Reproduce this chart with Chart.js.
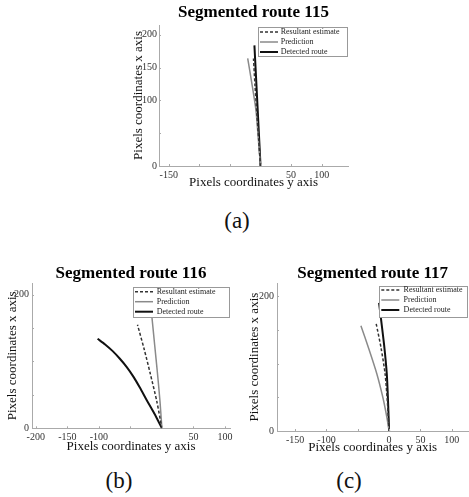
<!DOCTYPE html>
<html>
<head>
<meta charset="utf-8">
<script src="https://cdn.jsdelivr.net/npm/chart.js@4.4.1/dist/chart.umd.min.js"></script>
<style>
  body { margin: 0; background: #fff; }
  .panel { position: absolute; }
  .caption { position: absolute; font: 23px "Liberation Serif", serif; line-height: 23px; color: #111; text-align: center; width: 60px; }
</style>
</head>
<body>
<div class="panel" style="left:120px; top:0px;"><canvas id="route115" width="240" height="196"></canvas></div>
<div class="panel" style="left:0px; top:258px;"><canvas id="route116" width="236" height="200"></canvas></div>
<div class="panel" style="left:240px; top:258px;"><canvas id="route117" width="229" height="202"></canvas></div>
<div class="caption" style="left:207px; top:209px;">(a)</div>
<div class="caption" style="left:89px; top:469px;">(b)</div>
<div class="caption" style="left:319px; top:469px;">(c)</div>
<script>
// Horizontal axis = "pixels coordinates y axis", vertical axis = "pixels coordinates x axis"
const legendLabels = ['Resultant estimate', 'Prediction', 'Detected route'];
const yTickValues = [0, 50, 100, 150, 200];

// Segmented route 115
const r115XTicks = [-150, -100, -50, 0, 50, 100];
const r115XTickLabels = ['-150', '', '', '', '50', '100'];
const r115YTickLabels = ['0', '', '100', '150', '200'];
const r115ResultantY = [0, -3, -6, -9, -11.5];
const r115ResultantX = [0, 40, 80, 122, 164];
const r115PredictionY = [0, -3.5, -7.5, -14, -21];
const r115PredictionX = [0, 40, 85, 125, 164];
const r115DetectedY = [0, -5, -10];
const r115DetectedX = [0, 92, 184];

// Segmented route 116
const r116XTicks = [-200, -150, -100, -50, 0, 50, 100];
const r116XTickLabels = ['-200', '-150', '-100', '', '', '50', '100'];
const r116YTickLabels = ['0', '', '', '', '200'];
const r116ResultantY = [0, -8, -18.5, -28, -38.7];
const r116ResultantX = [0, 40, 82, 118, 155];
const r116PredictionY = [0, -3, -7, -11.5, -16, -19];
const r116PredictionX = [0, 40, 82, 125, 168, 195];
const r116DetectedY = [0, -12, -24, -35, -45, -56, -67, -78, -90, -102];
const r116DetectedX = [0, 22, 42, 61, 77, 92, 104.5, 115.5, 125.5, 134];

// Segmented route 117
const r117XTicks = [-150, -100, -50, 0, 50, 100];
const r117XTickLabels = ['-150', '-100', '', '0', '50', '100'];
const r117YTickLabels = ['0', '', '', '', '200'];
const r117ResultantY = [0, -2.5, -6.4, -13, -20.7];
const r117ResultantX = [0, 40, 85, 124, 159.5];
const r117PredictionY = [0, -3.7, -10, -19.6, -32, -45];
const r117PredictionX = [0, 21, 50, 85, 121, 156];
const r117DetectedY = [0, -1.5, -3.7, -8, -13, -16];
const r117DetectedX = [0, 40, 85, 128, 167, 190];

Chart.defaults.font.family = '"Liberation Serif", "Times New Roman", serif';
Chart.defaults.color = '#222';

function toPoints(ys, xs) {
  return ys.map((v, i) => ({ x: v, y: xs[i] }));
}

// white legend box in the top right corner of the plot
const boxLegend = {
  id: 'boxLegend',
  afterDraw(chart, args, opts) {
    const { ctx, chartArea } = chart;
    const left = chartArea.right - opts.width;
    const top = chartArea.top + opts.top;
    ctx.save();
    ctx.fillStyle = '#fff';
    ctx.fillRect(left, top, opts.width, opts.height);
    ctx.strokeStyle = '#999';
    ctx.lineWidth = 1;
    ctx.strokeRect(Math.round(left) + 0.5, Math.round(top) + 0.5, opts.width - 1, opts.height - 1);
    ctx.font = '8px "Liberation Serif"';
    ctx.textBaseline = 'middle';
    chart.data.datasets.forEach((ds, i) => {
      const y = top + opts.rowStart + i * 10;
      ctx.strokeStyle = ds.borderColor;
      ctx.lineWidth = ds.borderWidth;
      ctx.setLineDash(ds.borderDash || []);
      ctx.beginPath();
      ctx.moveTo(left + 2, y);
      ctx.lineTo(left + 20, y);
      ctx.stroke();
      ctx.setLineDash([]);
      ctx.fillStyle = '#222';
      ctx.fillText(ds.label, left + opts.textX, y);
    });
    ctx.restore();
  }
};

// short tick marks pointing into the plot
const innerTicks = {
  id: 'innerTicks',
  afterDraw(chart) {
    const { ctx, scales: { x, y } } = chart;
    ctx.save();
    ctx.strokeStyle = '#aaa';
    ctx.lineWidth = 1;
    ctx.beginPath();
    x.ticks.forEach(t => {
      const px = Math.round(x.getPixelForValue(t.value)) + 0.5;
      ctx.moveTo(px, x.top);
      ctx.lineTo(px, x.top - 2);
    });
    y.ticks.forEach(t => {
      const py = Math.round(y.getPixelForValue(t.value)) + 0.5;
      ctx.moveTo(y.right, py);
      ctx.lineTo(y.right + 2, py);
    });
    ctx.stroke();
    ctx.restore();
  }
};

function makeRouteChart(id, p) {
  const ctx = document.getElementById(id).getContext('2d');
  return new Chart(ctx, {
    type: 'scatter',
    data: {
      datasets: [{
        label: legendLabels[0],
        data: toPoints(p.resY, p.resX),
        borderColor: '#333',
        borderWidth: 1.5,
        borderDash: [3, 2],
      }, {
        label: legendLabels[1],
        data: toPoints(p.predY, p.predX),
        borderColor: '#8a8a8a',
        borderWidth: 1.5,
      }, {
        label: legendLabels[2],
        data: toPoints(p.detY, p.detX),
        borderColor: '#111',
        borderWidth: 2,
      }]
    },
    options: {
      responsive: false,
      animation: false,
      showLine: true,
      elements: { point: { radius: 0 }, line: { tension: 0.25, fill: false } },
      layout: { padding: { left: 0, right: p.padRight, top: 0, bottom: 0 } },
      plugins: {
        legend: { display: false },
        tooltip: { enabled: false },
        title: {
          display: true,
          text: p.title,
          fullSize: false,
          color: '#000',
          font: { size: 17, weight: 'bold', lineHeight: 1 },
          padding: { top: p.titleTop, bottom: p.titleBottom }
        },
        boxLegend: p.legend
      },
      scales: {
        x: {
          type: 'linear',
          min: p.xMin, max: p.xMax,
          afterFit: s => { s.height = p.xHeight; },
          afterBuildTicks: s => { s.ticks = p.xTicks.map(v => ({ value: v })); },
          ticks: {
            autoSkip: false, maxRotation: 0, padding: p.xTickPad,
            font: { size: 10 }, color: '#333',
            callback: (v, i) => p.xTickLabels[i]
          },
          grid: { display: false, drawTicks: false },
          border: { display: true, color: '#aaa', width: 1 },
          title: {
            display: true, text: 'Pixels coordinates y axis', color: '#111',
            font: { size: 13 }, padding: { top: 0, bottom: p.xTitlePad }
          }
        },
        y: {
          type: 'linear',
          min: 0, max: p.yMax,
          afterFit: s => { s.width = p.yWidth; },
          afterBuildTicks: s => { s.ticks = yTickValues.map(v => ({ value: v })); },
          ticks: {
            autoSkip: false, padding: p.yTickPad,
            font: { size: 10 }, color: '#333',
            callback: (v, i) => p.yTickLabels[i]
          },
          grid: { display: false, drawTicks: false },
          border: { display: true, color: '#aaa', width: 1 },
          title: {
            display: true, text: 'Pixels coordinates x axis', color: '#111',
            font: { size: 13 }, padding: { top: p.yTitlePad, bottom: 0 }
          }
        }
      }
    },
    plugins: [boxLegend, innerTicks]
  });
}

makeRouteChart('route115', {
  title: 'Segmented route 115',
  resY: r115ResultantY, resX: r115ResultantX,
  predY: r115PredictionY, predX: r115PredictionX,
  detY: r115DetectedY, detX: r115DetectedX,
  xTicks: r115XTicks, xTickLabels: r115XTickLabels, yTickLabels: r115YTickLabels,
  xMin: -166, xMax: 143, yMax: 215,
  padRight: 12, titleTop: 4, titleBottom: 4,
  yWidth: 39, yTitlePad: 10.5, yTickPad: 2,
  xHeight: 30, xTitlePad: 5.9, xTickPad: 3.7,
  legend: { width: 90, height: 30, top: 1.7, rowStart: 5.3, textX: 22.7 }
});

makeRouteChart('route116', {
  title: 'Segmented route 116',
  resY: r116ResultantY, resX: r116ResultantX,
  predY: r116PredictionY, predX: r116PredictionX,
  detY: r116DetectedY, detX: r116DetectedX,
  xTicks: r116XTicks, xTickLabels: r116XTickLabels, yTickLabels: r116YTickLabels,
  xMin: -206, xMax: 108, yMax: 217,
  padRight: 6, titleTop: 7, titleBottom: 1.3,
  yWidth: 32, yTitlePad: 4.5, yTickPad: 3,
  xHeight: 29.7, xTitlePad: 3.9, xTickPad: 3,
  legend: { width: 97, height: 31, top: 3.4, rowStart: 5, textX: 23.7 }
});

makeRouteChart('route117', {
  title: 'Segmented route 117',
  resY: r117ResultantY, resX: r117ResultantX,
  predY: r117PredictionY, predX: r117PredictionX,
  detY: r117DetectedY, detX: r117DetectedX,
  xTicks: r117XTicks, xTickLabels: r117XTickLabels, yTickLabels: r117YTickLabels,
  xMin: -179, xMax: 126.5, yMax: 219,
  padRight: 0.7, titleTop: 7, titleBottom: 1.3,
  yWidth: 37, yTitlePad: 7.1, yTickPad: 3,
  xHeight: 29, xTitlePad: 4.3, xTickPad: 3.7,
  legend: { width: 89, height: 32, top: 2.4, rowStart: 4.3, textX: 24.3 }
});
</script>
</body>
</html>
